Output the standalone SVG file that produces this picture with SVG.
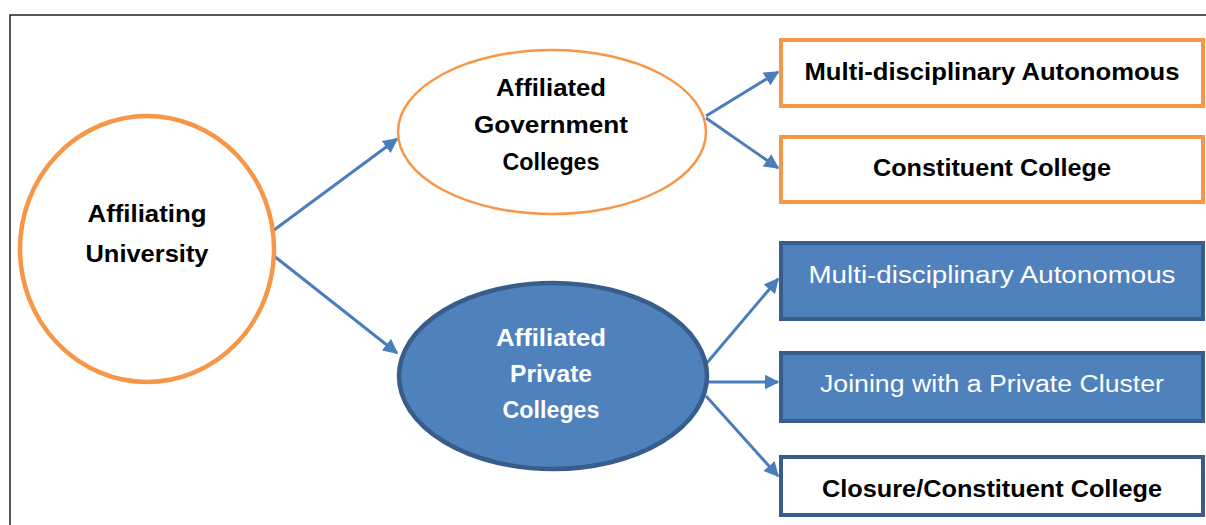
<svg xmlns="http://www.w3.org/2000/svg" width="1206" height="525" viewBox="0 0 1206 525">
<style>
.bold{font-family:"Liberation Sans",Arial,sans-serif;font-weight:bold;font-size:23px;text-anchor:middle;fill:#000}
.boldw{font-family:"Liberation Sans",Arial,sans-serif;font-weight:bold;font-size:23px;text-anchor:middle;fill:#fff}
.norm{font-family:"Liberation Sans",Arial,sans-serif;font-size:23px;text-anchor:middle;fill:#fff}
.obox{fill:#fff;stroke:#F79646;stroke-width:4}
.bbox{fill:#4F81BD;stroke:#385D8A;stroke-width:4}
.wbox{fill:#fff;stroke:#385D8A;stroke-width:4}
.conn{stroke:#4A7EBB;stroke-width:3;fill:none;marker-end:url(#ah)}
</style>
<defs>
<marker id="ah" viewBox="0 0 10 10" refX="9" refY="5" markerWidth="5" markerHeight="5" orient="auto" markerUnits="strokeWidth">
<path d="M0,0 L10,5 L0,10 z" fill="#4A7EBB"/>
</marker>
</defs>
<rect width="1206" height="525" fill="#fff"/>
<path d="M10,525 L10,15 L1206,15" fill="none" stroke="#222" stroke-width="1.5"/>
<g id="connectors">
<line class="conn" x1="274" y1="230" x2="397" y2="139"/>
<line class="conn" x1="274" y1="256" x2="397" y2="353"/>
<line class="conn" x1="706" y1="116" x2="778" y2="72"/>
<line class="conn" x1="706" y1="118" x2="778" y2="168"/>
<line class="conn" x1="706" y1="364" x2="778" y2="279"/>
<line class="conn" x1="706" y1="382" x2="778" y2="382"/>
<line class="conn" x1="706" y1="396" x2="778" y2="476"/>
</g>
<g id="university">
<ellipse cx="147" cy="249" rx="127" ry="133" fill="#fff" stroke="#F79646" stroke-width="4.5"/>
<text class="bold" x="147" y="222" textLength="119" lengthAdjust="spacingAndGlyphs">Affiliating</text>
<text class="bold" x="147" y="262" textLength="123" lengthAdjust="spacingAndGlyphs">University</text>
</g>
<g id="gov">
<ellipse cx="552" cy="132" rx="154" ry="82" fill="#fff" stroke="#F79646" stroke-width="2.5"/>
<text class="bold" x="551" y="96" textLength="110" lengthAdjust="spacingAndGlyphs">Affiliated</text>
<text class="bold" x="551" y="133" textLength="154" lengthAdjust="spacingAndGlyphs">Government</text>
<text class="bold" x="551" y="170" textLength="97" lengthAdjust="spacingAndGlyphs">Colleges</text>
</g>
<g id="private">
<ellipse cx="553" cy="376" rx="154" ry="93" fill="#4F81BD" stroke="#385D8A" stroke-width="4.5"/>
<text class="boldw" x="551" y="346" textLength="110" lengthAdjust="spacingAndGlyphs">Affiliated</text>
<text class="boldw" x="551" y="382" textLength="82" lengthAdjust="spacingAndGlyphs">Private</text>
<text class="boldw" x="551" y="418" textLength="97" lengthAdjust="spacingAndGlyphs">Colleges</text>
</g>
<g id="gov-auto">
<rect class="obox" x="781" y="40" width="422" height="66"/>
<text class="bold" x="992" y="80" textLength="375" lengthAdjust="spacingAndGlyphs">Multi-disciplinary Autonomous</text>
</g>
<g id="gov-constituent">
<rect class="obox" x="781" y="137" width="422" height="65"/>
<text class="bold" x="992" y="176" textLength="238" lengthAdjust="spacingAndGlyphs">Constituent College</text>
</g>
<g id="priv-auto">
<rect class="bbox" x="781" y="243" width="422" height="76"/>
<text class="norm" x="992" y="283" textLength="367" lengthAdjust="spacingAndGlyphs">Multi-disciplinary Autonomous</text>
</g>
<g id="priv-cluster">
<rect class="bbox" x="781" y="353" width="422" height="68"/>
<text class="norm" x="992" y="392" textLength="344" lengthAdjust="spacingAndGlyphs">Joining with a Private Cluster</text>
</g>
<g id="priv-closure">
<rect class="wbox" x="781" y="457" width="422" height="58"/>
<text class="bold" x="992" y="497" textLength="340" lengthAdjust="spacingAndGlyphs">Closure/Constituent College</text>
</g>
</svg>
